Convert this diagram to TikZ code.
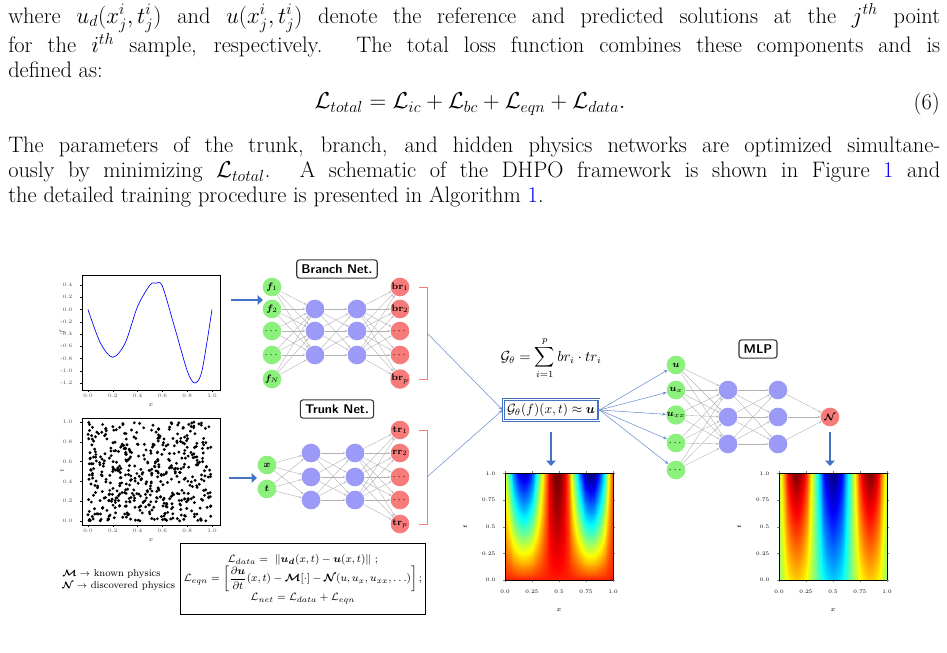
\documentclass[tikz,border=0pt]{standalone}
\usepackage{amsmath,amssymb,bm}
\usepackage{tikz}
\usepackage{pgfplots}
\pgfplotsset{compat = newest}
\usetikzlibrary{arrows.meta}

\definecolor{nodegreen}{HTML}{8CF07C}
\definecolor{nodeblue}{HTML}{9B9BF7}
\definecolor{nodered}{HTML}{F77B7B}
\definecolor{arrowblue}{HTML}{4472C4}

\tikzset{
  inp/.style = {circle, fill=nodegreen, minimum size=14pt, inner sep=0pt, font=\fontsize{7.5}{8}\selectfont},
  hid/.style = {circle, fill=nodeblue, minimum size=14pt, inner sep=0pt},
  outp/.style = {circle, fill=nodered, minimum size=14pt, inner sep=0pt, font=\fontsize{7.5}{8}\selectfont},
  conn/.style = {gray!60, line width=0.3pt, -{Stealth[length=2pt]}},
  netbox/.style = {draw=black!80, rounded corners=2pt, thick, font=\sffamily\bfseries\fontsize{9.5}{11}\selectfont, inner sep=3.5pt},
  bigarrow/.style = {arrowblue, line width=2pt, -{Triangle[length=4pt,width=7pt]}},
  thinarrow/.style = {arrowblue!80, line width=0.4pt},
  tick/.style = {font=\fontsize{4}{4}\selectfont, text=black!70},
}

\newcommand{\jline}[2]{\node[anchor=west, inner sep=0pt] at (8,#1) {\parbox{699pt}{\parfillskip=0pt #2}};}

\pgfplotsset{heat/.style = {
  view={0}{90}, width=81pt, height=80pt, scale only axis,
  xmin=0, xmax=1, ymin=0, ymax=1, colormap/jet, shader=interp,
  xtick={0,0.25,0.5,0.75,1}, ytick={0,0.25,0.5,0.75,1},
  xticklabels={0.0,0.25,0.5,0.75,1.0}, yticklabels={0.0,0.25,0.5,0.75,1.0},
  tick label style={font=\fontsize{4}{4}\selectfont},
  xlabel={$x$}, ylabel={$t$}, label style={font=\fontsize{4}{4}\selectfont},
  tick align=outside, major tick length=1.5pt,
  axis on top, samples=40, domain=0:1, y domain=0:1}}

\begin{document}
\begin{tikzpicture}[x=0.75pt, y=-0.75pt]
\useasboundingbox (0,0) rectangle (947,653);
\fontsize{16.8}{20}\selectfont

% text above the figure
\jline{18}{where $u_d(x^i_j,t^i_j)$ and $u(x^i_j,t^i_j)$ denote the reference and predicted solutions at the $j^{th}$ point}
\jline{45}{for the $i^{th}$ sample, respectively. The total loss function combines these components and is}
\node[anchor=west, inner sep=0pt] at (8,70) {defined as:};
\node (eq) at (470,104) {$\mathcal{L}_{total}=\mathcal{L}_{ic}+\mathcal{L}_{bc}+\mathcal{L}_{eqn}+\mathcal{L}_{data}.$};
\node[anchor=east, inner sep=0pt] at (940,104) {(6)};
\jline{147}{The parameters of the trunk, branch, and hidden physics networks are optimized simultane-}
\jline{172}{ously by minimizing $\mathcal{L}_{total}$. A schematic of the DHPO framework is shown in Figure \textcolor{blue}{1} and}
\node[anchor=west, inner sep=0pt] at (8,197) {the detailed training procedure is presented in Algorithm \textcolor{blue}{1}.};

% input function plot
\draw[line width=0.3pt] (82,275) rectangle (220,390);
\draw[blue, line width=0.5pt] plot[smooth] coordinates {(88,309.5) (100.4,343) (112.8,357.3) (125.2,343) (137.6,306.4) (150,285) (156.2,283.2) (162.4,286.2) (174.8,327.9) (187.2,370.7) (194.6,383) (202,370.7) (212,309.5)};
\foreach \v in {0.0,0.2,0.4,0.6,0.8,1.0} {
  \draw[line width=0.2pt] ({88+124*\v},390) -- ({88+124*\v},392);
  \node[tick] at ({88+124*\v},396) {\v};
}
\foreach \v in {0.4,0.2,0.0,-0.2,-0.4,-0.6,-0.8,-1.0,-1.2} {
  \draw[line width=0.2pt] (82,{309.5-61.25*\v}) -- (80,{309.5-61.25*\v});
  \node[tick, anchor=east] at (80,{309.5-61.25*\v}) {\v};
}
\node[tick] at (151,405) {$x$};
\node[tick, rotate=90] at (62,332) {$f$};

% collocation points plot
\draw[line width=0.3pt] (82,418) rectangle (220,525);
\pgfmathsetseed{11}
\foreach \k in {1,...,520} {
  \pgfmathsetmacro{\rx}{88+124*rnd}
  \pgfmathsetmacro{\ry}{521-99*rnd}
  \fill (\rx,\ry) circle (1.6);
}
\foreach \v in {0.0,0.2,0.4,0.6,0.8,1.0} {
  \draw[line width=0.2pt] ({88+124*\v},525) -- ({88+124*\v},527);
  \node[tick] at ({88+124*\v},531) {\v};
  \draw[line width=0.2pt] (82,{521-99*\v}) -- (80,{521-99*\v});
  \node[tick, anchor=east] at (80,{521-99*\v}) {\v};
}
\node[tick] at (151,540) {$x$};
\node[tick, rotate=90] at (62,471) {$t$};

\draw[bigarrow] (231,300) -- (263,300);
\draw[bigarrow] (229,478) -- (257,478);

% branch net
\node[netbox] (branch) at (337,269) {Branch Net.};
\foreach \i/\y/\l in {1/287/{$\bm{f}_1$}, 2/309/{$\bm{f}_2$}, 3/331/{$\cdots$}, 4/355/{$\cdots$}, 5/379/{$\bm{f}_N$}}
  \node[inp] (bi\i) at (272,\y) {\l};
\foreach \i/\y in {1/309, 2/331, 3/355} {
  \node[hid] (bha\i) at (315,\y) {};
  \node[hid] (bhb\i) at (357,\y) {};
}
\foreach \i/\y/\l in {1/287/{$\mathbf{br}_1$}, 2/309/{$\mathbf{br}_2$}, 3/331/{$\cdots$}, 4/355/{$\cdots$}, 5/379/{$\mathbf{br}_p$}}
  \node[outp] (bo\i) at (400,\y) {\l};
\foreach \a in {1,...,5} \foreach \b in {1,2,3} \draw[conn] (bi\a) -- (bha\b);
\foreach \a in {1,2,3} \foreach \b in {1,2,3} \draw[conn] (bha\a) -- (bhb\b);
\foreach \a in {1,2,3} \foreach \b in {1,...,5} \draw[conn] (bhb\a) -- (bo\b);
\draw[nodered, line width=0.6pt] (419,287) -- (427,287) -- (427,379) -- (419,379);
\coordinate (bmid) at (427,333);

% trunk net
\node[netbox] (trunk) at (337,409) {Trunk Net.};
\node[inp] (ti1) at (267,465) {$\bm{x}$};
\node[inp] (ti2) at (267,489) {$\bm{t}$};
\foreach \i/\y in {1/453, 2/477, 3/500} {
  \node[hid] (tha\i) at (311,\y) {};
  \node[hid] (thb\i) at (355,\y) {};
}
\foreach \i/\y/\l in {1/430/{$\mathbf{tr}_1$}, 2/453/{$\mathbf{rr}_2$}, 3/477/{$\cdots$}, 4/500/{$\cdots$}, 5/524/{$\mathbf{tr}_p$}}
  \node[outp] (to\i) at (400,\y) {\l};
\foreach \a in {1,2} \foreach \b in {1,2,3} \draw[conn] (ti\a) -- (tha\b);
\foreach \a in {1,2,3} \foreach \b in {1,2,3} \draw[conn] (tha\a) -- (thb\b);
\foreach \a in {1,2,3} \foreach \b in {1,...,5} \draw[conn] (thb\a) -- (to\b);
\draw[nodered, line width=0.6pt] (419,430) -- (427,430) -- (427,524) -- (419,524);
\coordinate (tmid) at (427,477);

% operator
\node[font=\fontsize{10.5}{12}\selectfont] (sum) at (551,358) {$\mathcal{G}_\theta=\displaystyle\sum_{i=1}^{p} br_i\cdot tr_i$};
\node[draw=arrowblue, double, thick, fill=white, font=\fontsize{10}{12}\selectfont, inner sep=3pt] (op) at (551,410) {$\mathcal{G}_\theta(f)(x,t)\approx\bm{u}$};
\draw[thinarrow, -{Stealth[length=3pt]}] (bmid) -- (op.west);
\draw[thinarrow, -{Stealth[length=3pt]}] (tmid) -- (op.west);
\draw[bigarrow] (551,432) -- (551,466);

\begin{axis}[heat, at={(378.75pt,-435pt)}, anchor=south west, point meta min=-1.2, point meta max=1.1]
\addplot3[surf] {cos(360*(x-0.48)/0.62)*(1+0.3*x)*y^0.9 + 0.75*(1-y^0.9)};
\end{axis}

% MLP
\node[netbox] (mlp) at (758,349) {MLP};
\foreach \i/\y/\l in {1/365/{$\bm{u}$}, 2/390/{$\bm{u}_x$}, 3/415/{$\bm{u}_{xx}$}, 4/443/{$\cdots$}, 5/470/{$\cdots$}} {
  \node[inp] (mi\i) at (676,\y) {\l};
  \draw[thinarrow, -{Stealth[length=3pt]}] (op.east) -- (mi\i);
}
\foreach \i/\y in {1/390, 2/417, 3/444} {
  \node[hid] (mha\i) at (728,\y) {};
  \node[hid] (mhb\i) at (778,\y) {};
}
\node[outp] (mo) at (830,417) {$\bm{\mathcal{N}}$};
\foreach \a in {1,...,5} \foreach \b in {1,2,3} \draw[conn] (mi\a) -- (mha\b);
\foreach \a in {1,2,3} \foreach \b in {1,2,3} \draw[conn] (mha\a) -- (mhb\b);
\foreach \a in {1,2,3} \draw[conn] (mhb\a) -- (mo);
\draw[bigarrow] (830,432) -- (830,466);

\begin{axis}[heat, at={(584.25pt,-435pt)}, anchor=south west, point meta min=-1, point meta max=1]
\addplot3[surf] {-cos(360*(x-0.5)/0.68)*(0.35+0.65*y)};
\end{axis}

% loss terms
\node[anchor=west, font=\fontsize{7.5}{9}\selectfont, align=left, inner sep=0pt] (legend) at (62,580) {$\bm{\mathcal{M}}\rightarrow$ known physics\\ $\bm{\mathcal{N}}\rightarrow$ discovered physics};
\node[draw, line width=0.6pt, font=\fontsize{8}{10}\selectfont, align=center, minimum width=184pt, minimum height=53pt, inner sep=1pt] (loss) at (303,579) {%
  $\mathcal{L}_{data}=\ \|\bm{u_d}(x,t)-\bm{u}(x,t)\|\ ;$\\
  $\mathcal{L}_{eqn}=\left[\dfrac{\partial\bm{u}}{\partial t}(x,t)-\bm{\mathcal{M}}[\cdot]-\bm{\mathcal{N}}(u,u_x,u_{xx},\ldots)\right];$\\
  $\mathcal{L}_{net}=\mathcal{L}_{data}+\mathcal{L}_{eqn}$};
\end{tikzpicture}
\end{document}
